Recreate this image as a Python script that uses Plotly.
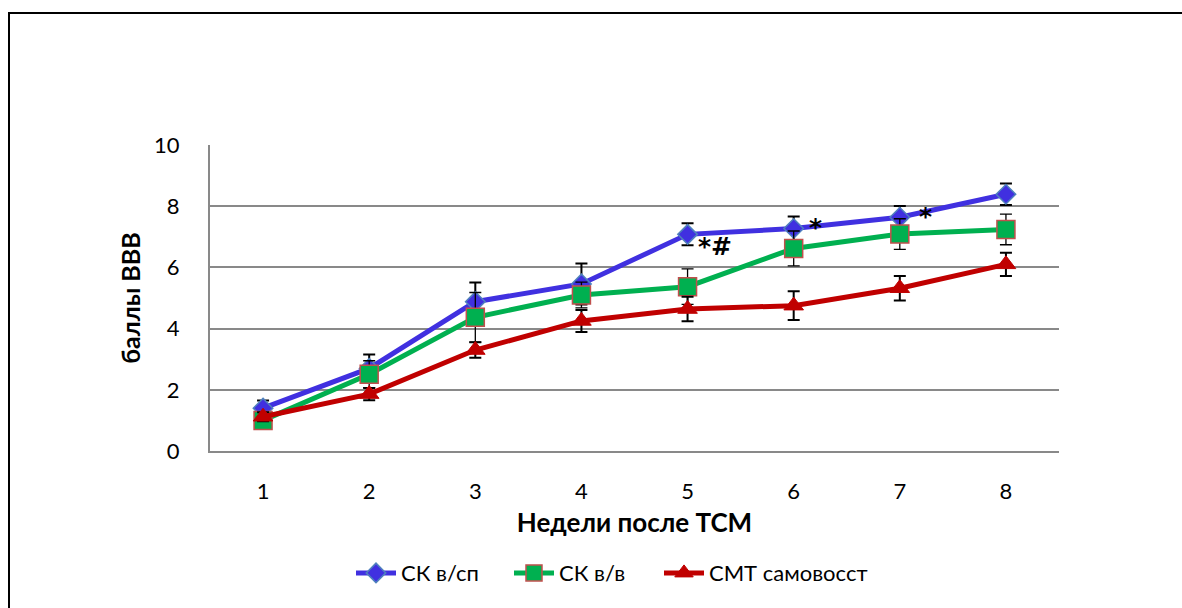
import plotly.graph_objects as go

weeks = [1, 2, 3, 4, 5, 6, 7, 8]
tick_labels = ["1", "2", "3", "4", "5", "6", "7", "8"]

names = ["СК в/сп", "СК в/в", "СМТ самовосст"]
sk_vsp = [1.40, 2.70, 4.88, 5.46, 7.08, 7.27, 7.64, 8.39]
sk_vsp_err = [0.25, 0.45, 0.63, 0.67, 0.36, 0.39, 0.37, 0.35]
sk_vv = [1.00, 2.51, 4.37, 5.10, 5.37, 6.62, 7.09, 7.24]
sk_vv_err = [0.20, 0.44, 0.81, 0.42, 0.58, 0.57, 0.50, 0.50]
smt = [1.12, 1.86, 3.30, 4.25, 4.64, 4.75, 5.32, 6.10]
smt_err = [0.15, 0.20, 0.25, 0.36, 0.40, 0.47, 0.40, 0.38]

sig_weeks = [5, 6, 7]
sig_labels = ["*#", "*", "*"]

FONT = "Lato"

fig = go.Figure()

fig.add_trace(go.Scatter(
    x=weeks, y=sk_vsp, name=names[0], mode="lines+markers", legend="legend",
    line=dict(color="#4030E0", width=5),
    marker=dict(symbol="diamond", size=15, color="#4030E0",
                line=dict(color="#4F81BD", width=1.5)),
    error_y=dict(type="data", array=sk_vsp_err, visible=True,
                 color="black", thickness=2, width=6),
))
fig.add_trace(go.Scatter(
    x=weeks, y=sk_vv, name=names[1], mode="lines+markers", legend="legend2",
    line=dict(color="#00B050", width=5),
    marker=dict(symbol="square", size=18, color="#00B050",
                line=dict(color="#C0504D", width=1.5)),
    error_y=dict(type="data", array=sk_vv_err, visible=True,
                 color="black", thickness=1.3, width=6),
))
fig.add_trace(go.Scatter(
    x=weeks, y=smt, name=names[2], mode="lines+markers", legend="legend3",
    line=dict(color="#C00000", width=5),
    marker=dict(symbol="triangle-up", size=17, color="#C00000",
                line=dict(color="#C00000", width=1)),
    error_y=dict(type="data", array=smt_err, visible=True,
                 color="black", thickness=2, width=6),
))

sig_offsets_x = [0.08, 0.13, 0.16]
sig_offsets_y = [-0.40, 0.02, 0.02]
for w, lab, dx, dy in zip(sig_weeks, sig_labels, sig_offsets_x, sig_offsets_y):
    yv = sk_vsp[weeks.index(w)]
    fig.add_annotation(x=w + dx, y=yv + dy, text=f"<b>{lab}</b>", showarrow=False,
                       xanchor="left", yanchor="middle",
                       font=dict(family="DejaVu Sans", size=25, color="black"))

# outer frame
fig.add_shape(type="rect", xref="paper", yref="paper",
              x0=(9 - 210) / 849, x1=(1200 - 210) / 849,
              y0=1 - (640 - 145) / 306, y1=1 + (145 - 13) / 306,
              line=dict(color="black", width=2), fillcolor="rgba(0,0,0,0)", layer="below")

def leg(px):
    return dict(orientation="h", x=(px - 210) / 849, xanchor="left",
                y=-0.399, yanchor="middle", font=dict(family=FONT, size=22),
                itemwidth=40, bgcolor="rgba(0,0,0,0)")

fig.update_layout(
    width=1182, height=608,
    margin=dict(l=210, r=123, t=145, b=157),
    paper_bgcolor="white", plot_bgcolor="white",
    font=dict(family=FONT, size=22, color="black"),
    showlegend=True,
    legend=leg(357 - 6),
    legend2=leg(515 - 6),
    legend3=leg(665 - 6),
    xaxis=dict(range=[0.5, 8.5], tickvals=weeks, ticktext=tick_labels,
               showgrid=False, zeroline=False, showline=True, linecolor="#898989",
               linewidth=2, ticks="", ticklabelstandoff=20,
               title=dict(text="<b>Недели после ТСМ</b>", standoff=10,
                          font=dict(family=FONT, size=26))),
    yaxis=dict(range=[0, 10], tickvals=[0, 2, 4, 6, 8, 10],
               showgrid=True, gridcolor="#898989", gridwidth=2,
               zeroline=False, showline=True, linecolor="#898989", linewidth=2,
               ticks="", ticklabelstandoff=24,
               title=dict(text="<b>баллы ВВВ</b>", standoff=6,
                          font=dict(family=FONT, size=25))),
)

fig.write_html("out.html")
